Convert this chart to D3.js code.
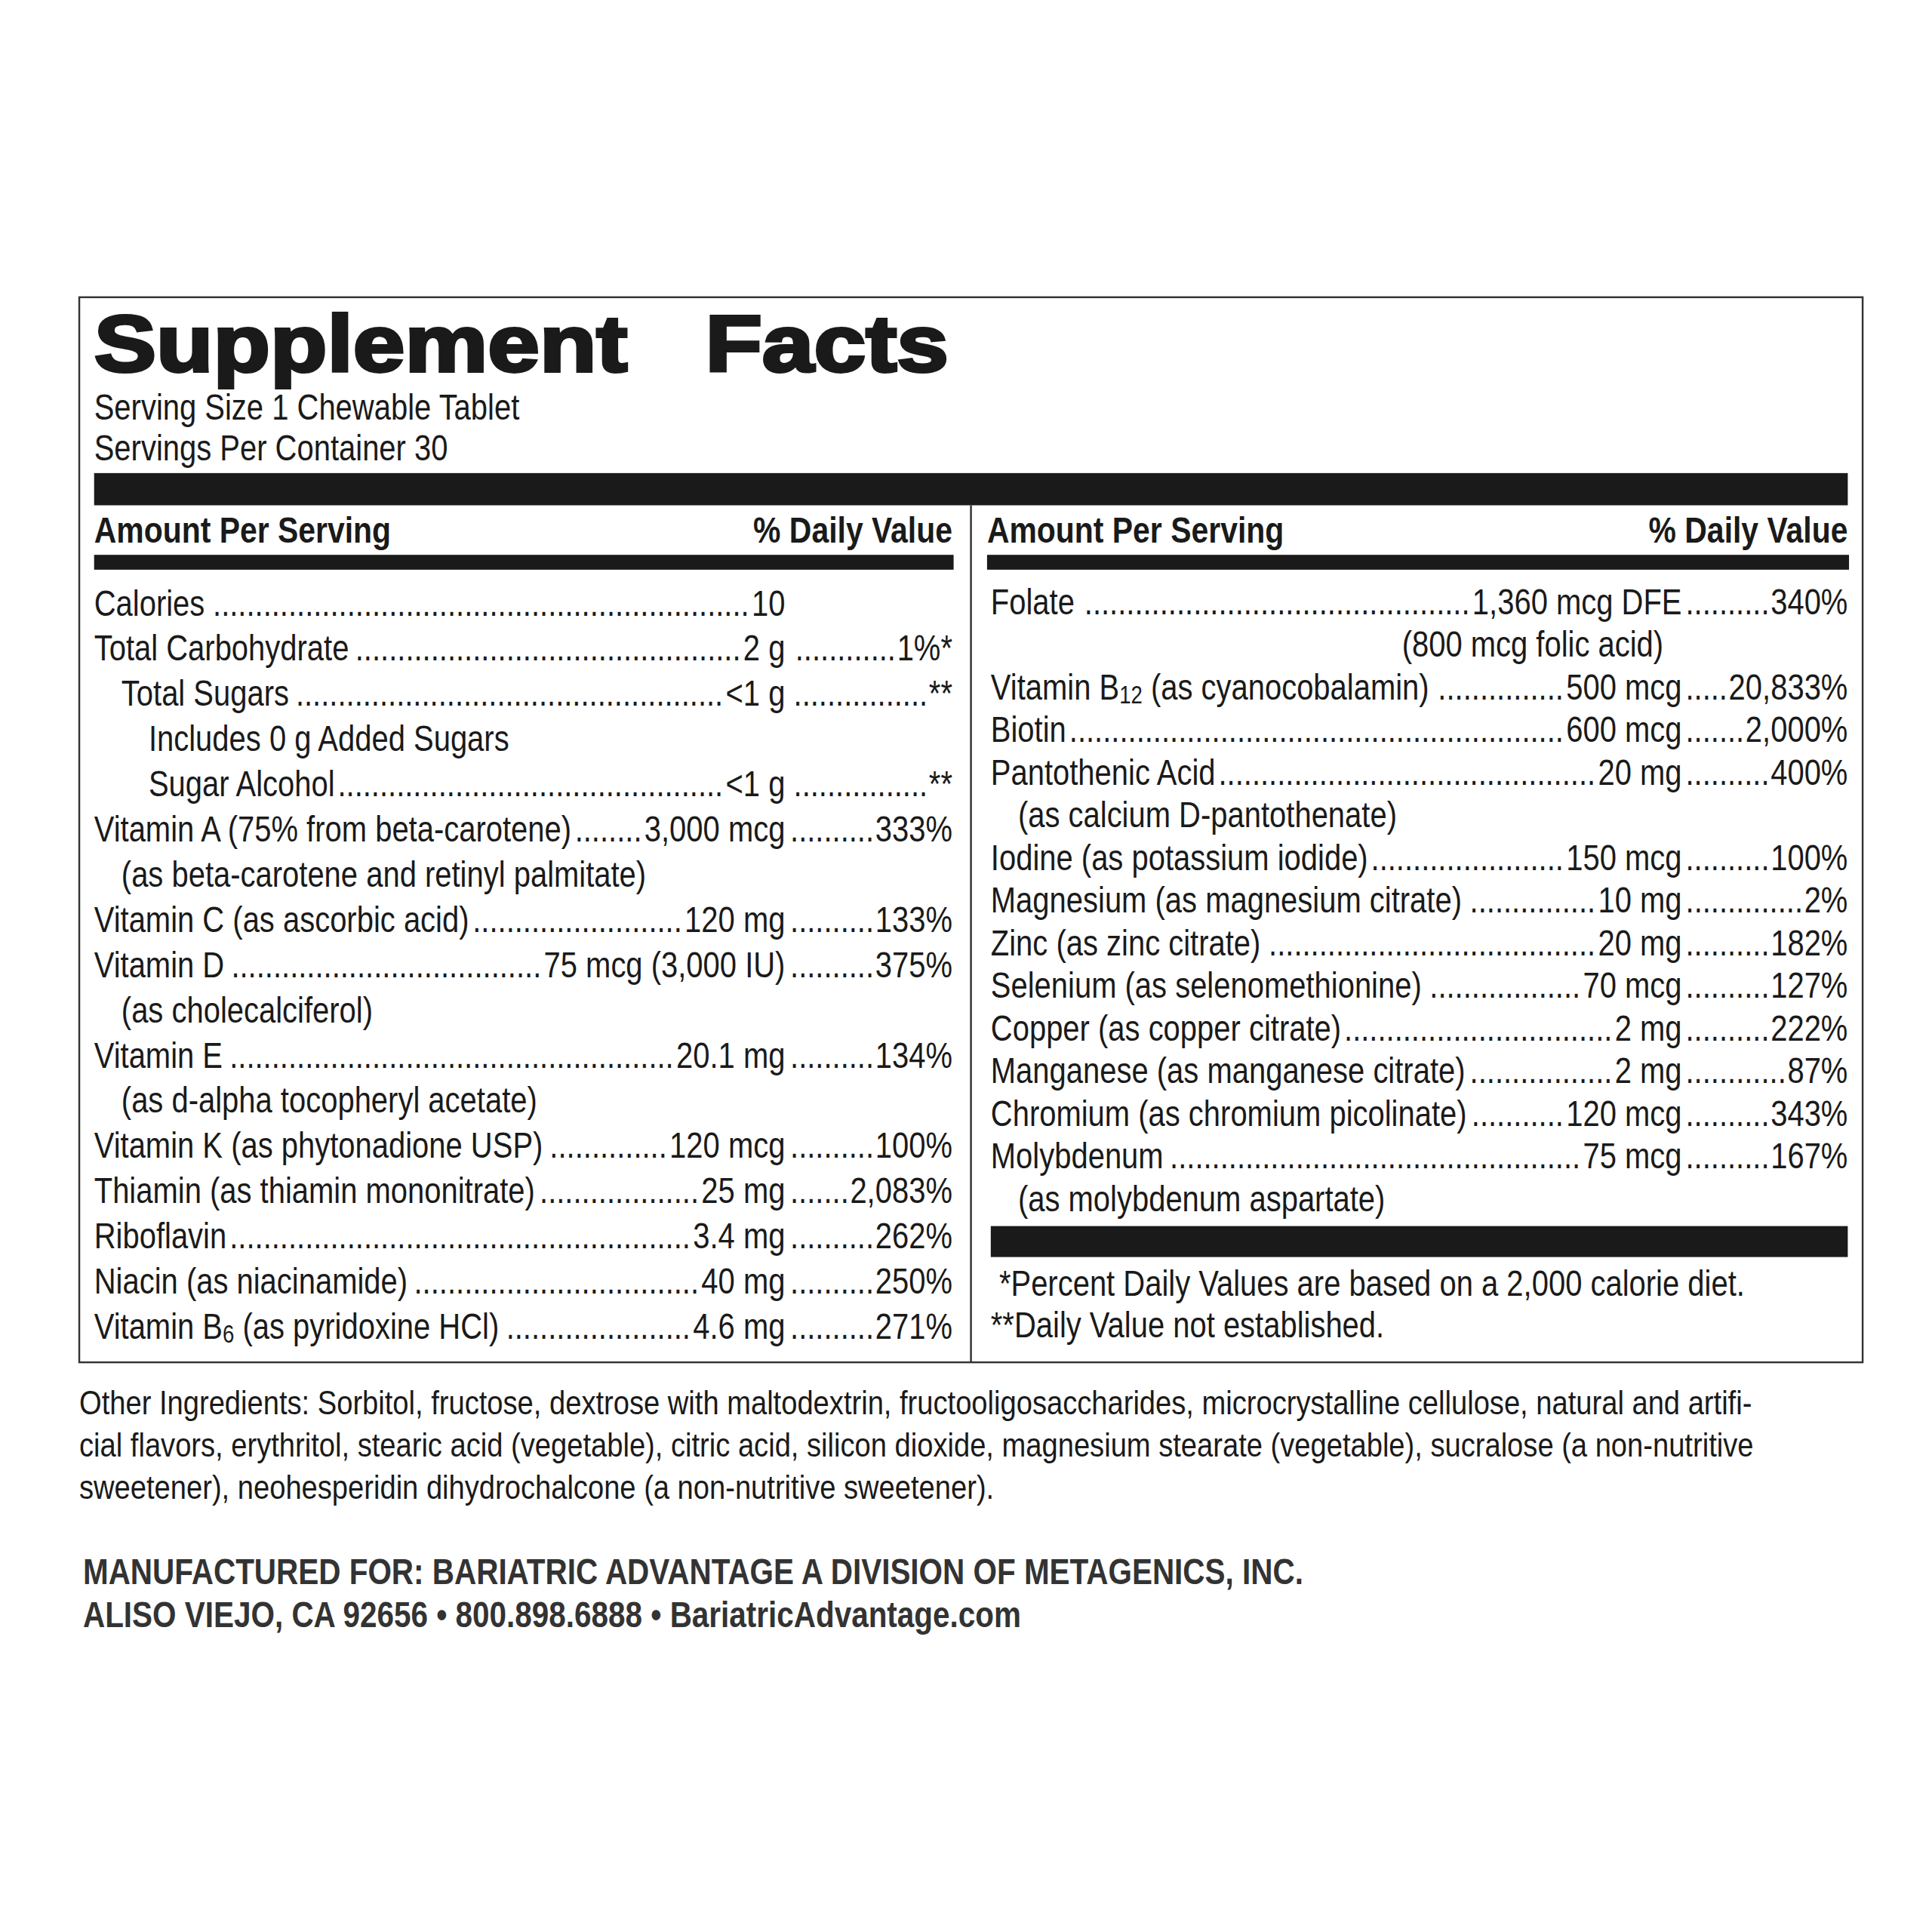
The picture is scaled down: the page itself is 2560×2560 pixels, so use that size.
<!DOCTYPE html>
<html><head><meta charset="utf-8">
<script src="https://cdn.jsdelivr.net/npm/d3@7"></script>
<style>body{margin:0;background:#fff}</style></head>
<body><div id="chart"></div>
<script>
// ---- data ----
const leftNames = ["Calories","Total Carbohydrate","Total Sugars","Includes 0 g Added Sugars","Sugar Alcohol",
  "Vitamin A (75% from beta-carotene)","(as beta-carotene and retinyl palmitate)","Vitamin C (as ascorbic acid)",
  "Vitamin D","(as cholecalciferol)","Vitamin E","(as d-alpha tocopheryl acetate)","Vitamin K (as phytonadione USP)",
  "Thiamin (as thiamin mononitrate)","Riboflavin","Niacin (as niacinamide)","Vitamin B|6| (as pyridoxine HCl)"];
const leftAmounts = ["10","2 g","<1 g","","<1 g","3,000 mcg","","120 mg","75 mcg (3,000 IU)","","20.1 mg","","120 mcg","25 mg","3.4 mg","40 mg","4.6 mg"];
const leftDV = ["","1%*","**","","**","333%","","133%","375%","","134%","","100%","2,083%","262%","250%","271%"];
const leftIndent = [0,0,1,2,2,0,1,0,0,1,0,1,0,0,0,0,0];

const rightNames = ["Folate","(800 mcg folic acid)","Vitamin B|12| (as cyanocobalamin)","Biotin","Pantothenic Acid",
  "(as calcium D-pantothenate)","Iodine (as potassium iodide)","Magnesium (as magnesium citrate)","Zinc (as zinc citrate)",
  "Selenium (as selenomethionine)","Copper (as copper citrate)","Manganese (as manganese citrate)",
  "Chromium (as chromium picolinate)","Molybdenum","(as molybdenum aspartate)"];
const rightAmounts = ["1,360 mcg DFE","","500 mcg","600 mcg","20 mg","","150 mcg","10 mg","20 mg","70 mcg","2 mg","2 mg","120 mcg","75 mcg",""];
const rightDV = ["340%","","20,833%","2,000%","400%","","100%","2%","182%","127%","222%","87%","343%","167%",""];
const rightIndent = [0,3,0,0,0,1,0,0,0,0,0,0,0,0,1];

const ingredients = ["Other Ingredients: Sorbitol, fructose, dextrose with maltodextrin, fructooligosaccharides, microcrystalline cellulose, natural and artifi-",
  "cial flavors, erythritol, stearic acid (vegetable), citric acid, silicon dioxide, magnesium stearate (vegetable), sucralose (a non-nutritive",
  "sweetener), neohesperidin dihydrochalcone (a non-nutritive sweetener)."];
const footer = ["MANUFACTURED FOR: BARIATRIC ADVANTAGE A DIVISION OF METAGENICS, INC.",
  "ALISO VIEJO, CA 92656 • 800.898.6888 • BariatricAdvantage.com"];
const footnotes = [" *Percent Daily Values are based on a 2,000 calorie diet.", "**Daily Value not established."];

// ---- setup ----
const W = 1560;
const SX = 0.84; // horizontal squeeze to mimic a condensed face
const FONT = "'Liberation Sans',Arial,sans-serif";
const INK = "#1a1a1a";
const svg = d3.select("#chart").append("svg")
  .attr("width", 2560).attr("height", 2560)
  .attr("viewBox", `0 0 ${W} ${W}`)
  .style("font-family", FONT).attr("fill", INK);

// squeezed text; returns [selection, visible width]
function txt(g, x, y, str, o = {}) {
  const sx = o.sx || SX;
  const t = g.append("text").attr("transform", `translate(${x},${y}) scale(${sx},1)`)
    .attr("text-anchor", o.anchor || "start").attr("xml:space", "preserve")
    .style("font-size", (o.size || 29) + "px");
  if (o.bold) t.style("font-weight", "bold");
  if (o.fill) t.attr("fill", o.fill);
  str.split("|").forEach((part, i) => {
    const s = t.append("tspan").text(part);
    if (i % 2 === 1) s.style("font-size", "20px").attr("dy", 3);
    else if (i > 0) s.attr("dy", -3);
  });
  return t.node().getComputedTextLength() * sx;
}

svg.append("rect").attr("x", 64).attr("y", 240).attr("width", 1440).attr("height", 860)
  .attr("fill", "none").attr("stroke", "#333").attr("stroke-width", 1.5);

svg.append("text").attr("x", 76).attr("y", 300)
  .style("font-weight", 900).style("font-size", "64px").attr("stroke", INK).attr("stroke-width", 2.4)
  .attr("xml:space", "preserve").attr("textLength", 690).attr("lengthAdjust", "spacingAndGlyphs")
  .text("Supplement   Facts");

txt(svg, 76, 339, "Serving Size 1 Chewable Tablet");
txt(svg, 76, 372, "Servings Per Container 30");

svg.append("rect").attr("x", 76).attr("y", 382).attr("width", 1416).attr("height", 26).attr("fill", INK);
svg.append("line").attr("x1", 784).attr("x2", 784).attr("y1", 408).attr("y2", 1100).attr("stroke", "#333").attr("stroke-width", 1.5);

// header rows
[[76, 769], [797, 1492]].forEach(([l, r]) => {
  txt(svg, l, 438, "Amount Per Serving", { bold: true, sx: 0.86 });
  txt(svg, r, 438, "% Daily Value", { bold: true, sx: 0.86, anchor: "end" });
  svg.append("rect").attr("x", l).attr("y", 448).attr("width", r - l + 1).attr("height", 12).attr("fill", INK);
});

function leader(g, x1, x2, y) {
  if (x2 - x1 < 5) return;
  const probe = g.append("text").style("font-size", "29px").text("..........");
  const dw = probe.node().getComputedTextLength() / 10 * SX;
  probe.remove();
  const n = Math.floor((x2 - x1) / dw);
  if (n > 0) txt(g, x2, y, ".".repeat(n), { anchor: "end" });
}

function column(names, amounts, dvs, indents, x0, amtRight, dvRight, yScale) {
  const g = svg.append("g");
  names.forEach((name, i) => {
    const y = yScale(i);
    const ix = indents[i] === 3 ? x0 + 332 : x0 + indents[i] * 22;
    const nameEnd = ix + txt(g, ix, y, name) + 2;
    if (amounts[i]) {
      const aw = txt(g, amtRight, y, amounts[i], { anchor: "end" });
      leader(g, nameEnd, amtRight - aw - 2, y);
    }
    if (dvs[i]) {
      const dw = txt(g, dvRight, y, dvs[i], { anchor: "end" });
      leader(g, amounts[i] ? amtRight + 3 : nameEnd, dvRight - dw - 1, y);
    }
  });
}

const yLeft = d3.scaleLinear().domain([0, leftNames.length - 1]).range([497, 1081]);
const yRight = d3.scaleLinear().domain([0, rightNames.length - 1]).range([496, 978]);
column(leftNames, leftAmounts, leftDV, leftIndent, 76, 634, 769, yLeft);
column(rightNames, rightAmounts, rightDV, rightIndent, 800, 1358, 1492, yRight);

svg.append("rect").attr("x", 800).attr("y", 990).attr("width", 692).attr("height", 25).attr("fill", INK);
const yFoot = d3.scaleLinear().domain([0, 1]).range([1046, 1080]);
footnotes.forEach((s, i) => txt(svg, 800, yFoot(i), s));

const yIng = d3.scaleLinear().domain([0, 1]).range([1142, 1176]);
ingredients.forEach((s, i) => txt(svg, 64, yIng(i), s, { size: 27.5, sx: 0.845 }));

const yFooter = d3.scaleLinear().domain([0, 1]).range([1279, 1314]);
footer.forEach((s, i) => txt(svg, 67, yFooter(i), s, { bold: true, fill: "#333", sx: 0.85 }));
</script></body></html>
